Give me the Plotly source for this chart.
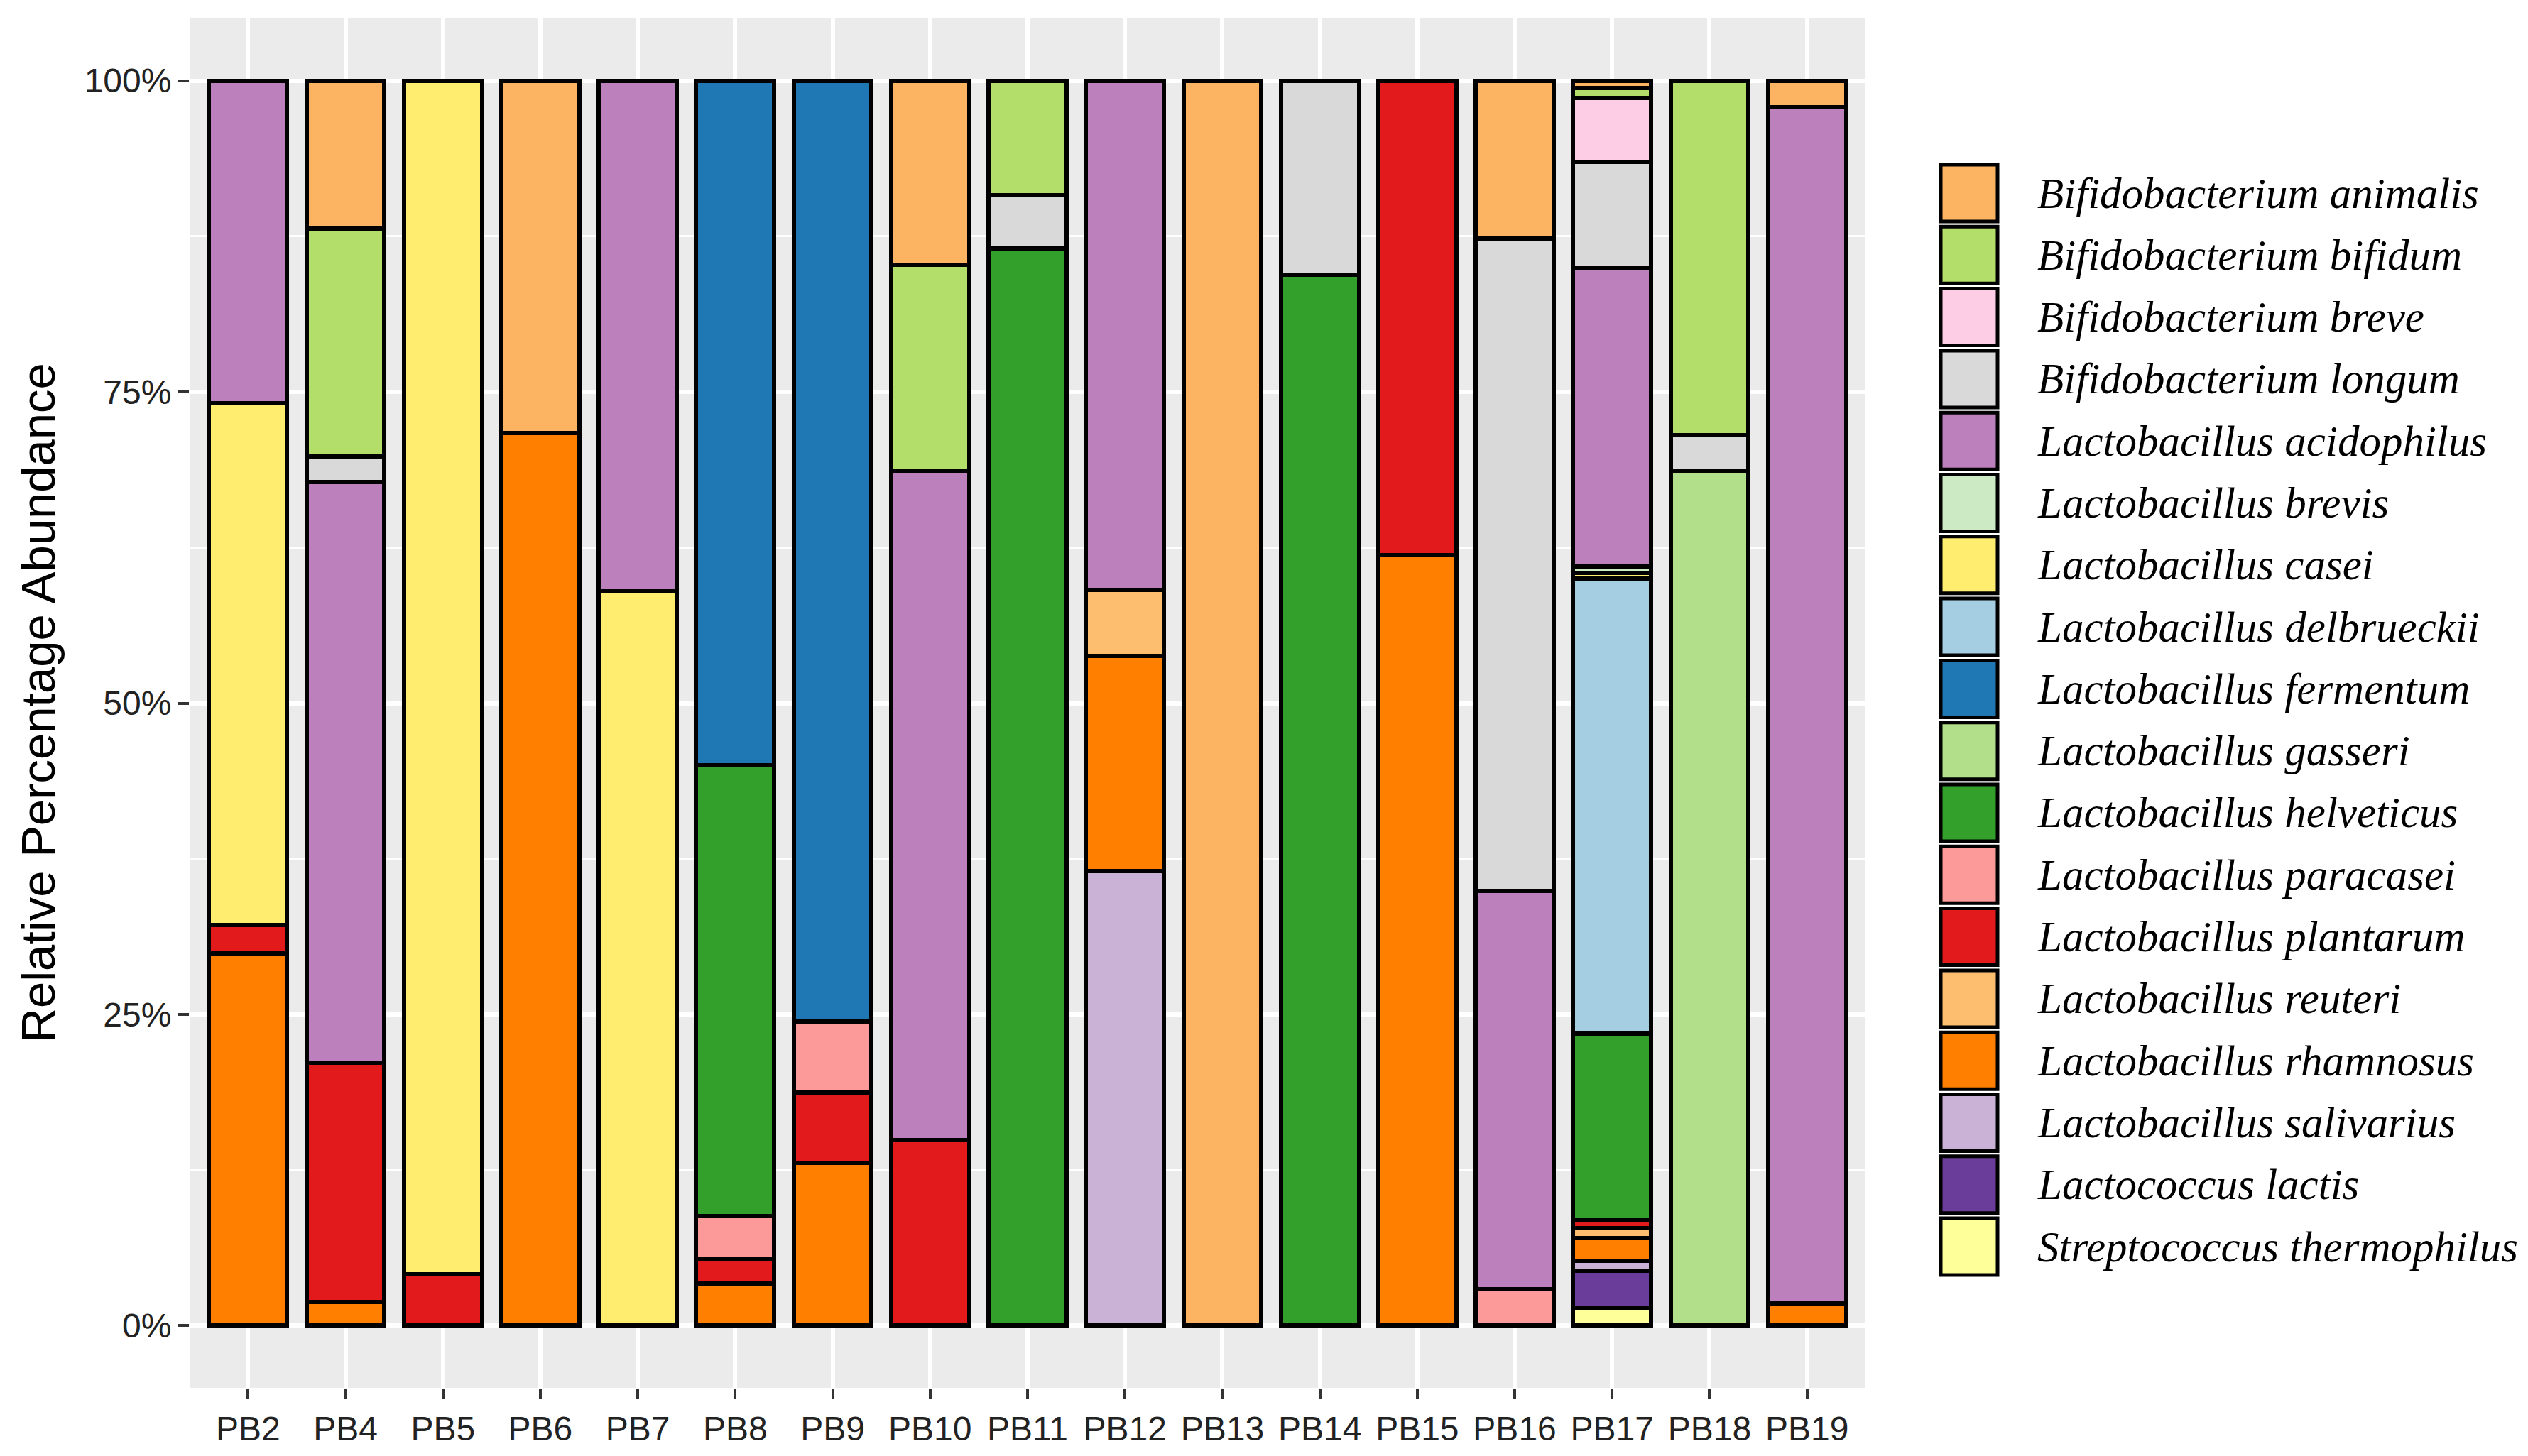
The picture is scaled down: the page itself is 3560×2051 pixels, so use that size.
import plotly.graph_objects as go

# samples on the x axis
samples = ["PB2", "PB4", "PB5", "PB6", "PB7", "PB8", "PB9", "PB10", "PB11",
           "PB12", "PB13", "PB14", "PB15", "PB16", "PB17", "PB18", "PB19"]

# legend order (ggplot stacks the first level on top)
species = ["Bifidobacterium animalis", "Bifidobacterium bifidum", "Bifidobacterium breve",
           "Bifidobacterium longum", "Lactobacillus acidophilus", "Lactobacillus brevis",
           "Lactobacillus casei", "Lactobacillus delbrueckii", "Lactobacillus fermentum",
           "Lactobacillus gasseri", "Lactobacillus helveticus", "Lactobacillus paracasei",
           "Lactobacillus plantarum", "Lactobacillus reuteri", "Lactobacillus rhamnosus",
           "Lactobacillus salivarius", "Lactococcus lactis", "Streptococcus thermophilus"]

colors = ["#FDB462", "#B3DE69", "#FCCDE5", "#D9D9D9", "#BC80BD", "#CCEBC5",
          "#FFED6F", "#A6CEE3", "#1F78B4", "#B2DF8A", "#33A02C", "#FB9A99",
          "#E31A1C", "#FDBF6F", "#FF7F00", "#CAB2D6", "#6A3D9A", "#FFFF99"]

# relative abundance (%) per species, one value per sample
#               PB2   PB4    PB5   PB6   PB7   PB8   PB9   PB10  PB11  PB12  PB13  PB14  PB15  PB16  PB17   PB18  PB19
animalis     = [0,    11.9,  0,    28.3, 0,    0,    0,    14.8, 0,    0,    100,  0,    0,    12.7, 0.6,   0,    2.1]
bifidum      = [0,    18.3,  0,    0,    0,    0,    0,    16.5, 9.2,  0,    0,    0,    0,    0,    0.8,   28.5, 0]
breve        = [0,    0,     0,    0,    0,    0,    0,    0,    0,    0,    0,    0,    0,    0,    5.1,   0,    0]
longum       = [0,    2.05,  0,    0,    0,    0,    0,    0,    4.3,  0,    0,    15.6, 0,    52.4, 8.5,   2.8,  0]
acidophilus  = [25.9, 46.65, 0,    0,    41.0, 0,    0,    53.8, 0,    40.9, 0,    0,    0,    32.0, 24.05, 0,    96.1]
brevis       = [0,    0,     0,    0,    0,    0,    0,    0,    0,    0,    0,    0,    0,    0,    0.46,  0,    0]
casei        = [41.9, 0,     95.9, 0,    59.0, 0,    0,    0,    0,    0,    0,    0,    0,    0,    0.5,   0,    0]
delbrueckii  = [0,    0,     0,    0,    0,    0,    0,    0,    0,    0,    0,    0,    0,    0,    36.54, 0,    0]
fermentum    = [0,    0,     0,    0,    0,    55.0, 75.6, 0,    0,    0,    0,    0,    0,    0,    0,     0,    0]
gasseri      = [0,    0,     0,    0,    0,    0,    0,    0,    0,    0,    0,    0,    0,    0,    0,     68.7, 0]
helveticus   = [0,    0,     0,    0,    0,    36.2, 0,    0,    86.5, 0,    0,    84.4, 0,    0,    14.97, 0,    0]
paracasei    = [0,    0,     0,    0,    0,    3.5,  5.7,  0,    0,    0,    0,    0,    0,    2.9,  0,     0,    0]
plantarum    = [2.3,  19.2,  4.1,  0,    0,    1.9,  5.6,  14.9, 0,    0,    0,    0,    38.1, 0,    0.67,  0,    0]
reuteri      = [0,    0,     0,    0,    0,    0,    0,    0,    0,    5.3,  0,    0,    0,    0,    0.76,  0,    0]
rhamnosus    = [29.9, 1.9,   0,    71.7, 0,    3.4,  13.1, 0,    0,    17.3, 0,    0,    61.9, 0,    1.86,  0,    1.8]
salivarius   = [0,    0,     0,    0,    0,    0,    0,    0,    0,    36.5, 0,    0,    0,    0,    0.8,   0,    0]
lactis       = [0,    0,     0,    0,    0,    0,    0,    0,    0,    0,    0,    0,    0,    0,    3.0,   0,    0]
thermophilus = [0,    0,     0,    0,    0,    0,    0,    0,    0,    0,    0,    0,    0,    0,    1.39,  0,    0]

values = [animalis, bifidum, breve, longum, acidophilus, brevis, casei, delbrueckii,
          fermentum, gasseri, helveticus, paracasei, plantarum, reuteri, rhamnosus,
          salivarius, lactis, thermophilus]

yticks = [0, 25, 50, 75, 100]
yticklabels = ["0%", "25%", "50%", "75%", "100%"]

# page geometry in pixels
W, H = 3560, 2051
L, R, T, B = 259, 941, 18, 104
pw, ph = W - L - R, H - T - B


def px_x(p):
    return (p - L) / pw


def px_y(p):
    return (H - B - p) / ph


fig = go.Figure()

# plotly stacks the first trace at the bottom, so go in reverse
for name, col, vals in reversed(list(zip(species, colors, values))):
    fig.add_trace(go.Bar(
        x=samples,
        y=[v if v > 0 else None for v in vals],
        name=name,
        width=0.8,
        marker=dict(color=col, line=dict(color="black", width=6)),
        showlegend=False,
    ))

# hand-made legend with big square keys
shapes = []
annotations = []
for i, (name, col) in enumerate(zip(species, colors)):
    cy = 264 + i * 87.3
    shapes.append(dict(
        type="rect", xref="paper", yref="paper",
        x0=px_x(2725), x1=px_x(2805), y0=px_y(cy - 40), y1=px_y(cy + 40),
        fillcolor=col, line=dict(color="black", width=5),
    ))
    annotations.append(dict(
        xref="paper", yref="paper", x=px_x(2859), y=px_y(cy),
        xanchor="left", yanchor="middle", showarrow=False, text=name,
        font=dict(family="Liberation Serif", size=61, color="black", style="italic"),
    ))

annotations.append(dict(
    xref="paper", yref="paper", x=px_x(45), y=0.5, textangle=-90,
    xanchor="center", yanchor="middle", showarrow=False,
    text="Relative Percentage Abundance",
    font=dict(family="Liberation Sans", size=67, color="black"),
))

fig.update_layout(
    width=W, height=H,
    margin=dict(l=L, r=R, t=T, b=B),
    paper_bgcolor="white",
    plot_bgcolor="#EBEBEB",
    barmode="stack",
    shapes=shapes,
    annotations=annotations,
    font=dict(family="Liberation Sans"),
)

fig.update_xaxes(
    range=[-0.6, len(samples) - 0.4],
    showgrid=True, gridcolor="white", gridwidth=5.5,
    ticks="outside", ticklen=15, tickwidth=4, tickcolor="#333333",
    tickfont=dict(family="Liberation Sans", size=48, color="#222222"),
    showline=False, zeroline=False,
)

fig.update_yaxes(
    range=[-5, 105],
    tickvals=yticks, ticktext=yticklabels,
    showgrid=True, gridcolor="white", gridwidth=5.5,
    minor=dict(tickvals=[12.5, 37.5, 62.5, 87.5], showgrid=True,
               gridcolor="white", gridwidth=2.8, ticks=""),
    ticks="outside", ticklen=15, tickwidth=4, tickcolor="#333333",
    tickfont=dict(family="Liberation Sans", size=48, color="#222222"),
    showline=False, zeroline=False,
)

fig.write_html("out.html")
